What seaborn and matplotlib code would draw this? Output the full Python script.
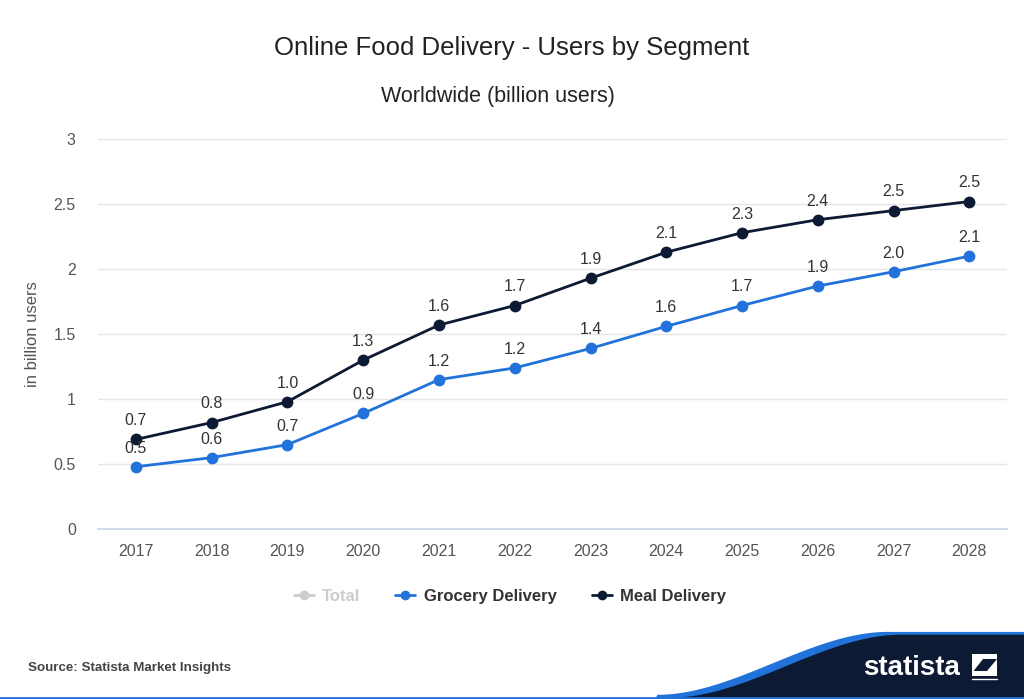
import numpy as np
import pandas as pd
import matplotlib
matplotlib.use('Agg')
import matplotlib.pyplot as plt
from matplotlib.lines import Line2D
from matplotlib.patches import Polygon
import seaborn as sns

# Data
years = [2017, 2018, 2019, 2020, 2021, 2022, 2023, 2024, 2025, 2026, 2027, 2028]
grocery = [0.48, 0.55, 0.65, 0.89, 1.15, 1.24, 1.39, 1.56, 1.72, 1.87, 1.98, 2.10]
meal = [0.69, 0.82, 0.98, 1.30, 1.57, 1.72, 1.93, 2.13, 2.28, 2.38, 2.45, 2.52]
grocery_labels = ['0.5', '0.6', '0.7', '0.9', '1.2', '1.2', '1.4', '1.6', '1.7', '1.9', '2.0', '2.1']
meal_labels = ['0.7', '0.8', '1.0', '1.3', '1.6', '1.7', '1.9', '2.1', '2.3', '2.4', '2.5', '2.5']
y_ticks = [0, 0.5, 1, 1.5, 2, 2.5, 3]
y_tick_labels = ['0', '0.5', '1', '1.5', '2', '2.5', '3']

BLUE = '#2173db'
NAVY = '#0c1b33'
GREY_TXT = '#555555'

sns.set_theme(style='white')
plt.rcParams['font.family'] = ['Liberation Sans', 'DejaVu Sans']

df = pd.DataFrame({
    'year': years * 2,
    'value': grocery + meal,
    'segment': ['Grocery Delivery'] * len(years) + ['Meal Delivery'] * len(years),
})

fig = plt.figure(figsize=(10.24, 6.99), dpi=100)
ax = fig.add_axes([0.0957, 0.243, 0.888, 0.558])

sns.lineplot(data=df, x='year', y='value', hue='segment',
             palette={'Grocery Delivery': BLUE, 'Meal Delivery': NAVY},
             marker='o', markersize=8.5, markeredgewidth=0, linewidth=2,
             legend=False, ax=ax)

for x, v, s in zip(years, grocery, grocery_labels):
    ax.annotate(s, (x, v), xytext=(0, 8), textcoords='offset points',
                ha='center', va='bottom', fontsize=11.5, color='#333333')
for x, v, s in zip(years, meal, meal_labels):
    ax.annotate(s, (x, v), xytext=(0, 8), textcoords='offset points',
                ha='center', va='bottom', fontsize=11.5, color='#333333')

ax.set_xlim(2016.5, 2028.5)
ax.set_ylim(0, 3)
ax.set_xticks(years)
ax.set_xticklabels([str(y) for y in years])
ax.set_yticks(y_ticks)
ax.set_yticklabels(y_tick_labels)
ax.tick_params(axis='both', length=0, labelsize=11.5, labelcolor=GREY_TXT)
ax.tick_params(axis='x', pad=11)
ax.tick_params(axis='y', pad=16)
ax.grid(axis='y', color='#e5e5e5', linewidth=1)
ax.set_axisbelow(True)
for side in ['top', 'right', 'left']:
    ax.spines[side].set_visible(False)
ax.spines['bottom'].set_color('#c9d6ea')
ax.set_xlabel('')
ax.set_ylabel('in billion users', fontsize=12, color=GREY_TXT, labelpad=10)

fig.text(0.5, 0.931, 'Online Food Delivery - Users by Segment', ha='center', va='center',
         fontsize=18.5, color='#222222')
fig.text(0.486, 0.862, 'Worldwide (billion users)', ha='center', va='center',
         fontsize=15.5, color='#222222')

handles = [
    Line2D([0], [0], color='#cccccc', marker='o', markersize=7, markeredgewidth=0, linewidth=2),
    Line2D([0], [0], color=BLUE, marker='o', markersize=7, markeredgewidth=0, linewidth=2),
    Line2D([0], [0], color=NAVY, marker='o', markersize=7, markeredgewidth=0, linewidth=2),
]
leg = fig.legend(handles, ['Total', 'Grocery Delivery', 'Meal Delivery'],
                 loc='center', bbox_to_anchor=(0.498, 0.147), ncol=3, frameon=False,
                 handlelength=1.2, columnspacing=2.1, handletextpad=0.5,
                 prop={'size': 12, 'weight': 'bold'})
for t, c in zip(leg.get_texts(), ['#cccccc', '#333333', '#333333']):
    t.set_color(c)

# footer
fig.text(0.027, 0.045, 'Source: Statista Market Insights', ha='left', va='center',
         fontsize=9.6, weight='bold', color='#444444')

xs = np.linspace(0.655, 1.0, 300)
t = np.clip((xs - 0.655) / 0.225, 0, 1)
wave = 0.002 + (0.092 - 0.002) * (3 * t ** 2 - 2 * t ** 3)
xb = np.clip(xs - 0.013, 0.64, 1.0)
blue_pts = [(0.64, 0.0)] + list(zip(xb, wave + 0.004)) + [(1.0, 0.096), (1.0, 0.0)]
navy_pts = [(0.655, 0.0)] + list(zip(xs, wave)) + [(1.0, 0.0)]
fig.add_artist(Polygon(blue_pts, closed=True, transform=fig.transFigure,
                       facecolor=BLUE, edgecolor='none'))
fig.add_artist(Polygon(navy_pts, closed=True, transform=fig.transFigure,
                       facecolor=NAVY, edgecolor='none'))
fig.add_artist(Line2D([0, 1], [0.002, 0.002], transform=fig.transFigure,
                      color=BLUE, linewidth=2))
fig.text(0.8905, 0.045, 'statista', ha='center', va='center', fontsize=20,
         weight='bold', color='white')

# logo mark
x0, y0, w, h = 0.949, 0.030, 0.025, 0.034
piece_a = [(0, 0.2), (0, 1), (1, 1), (1, 0.78), (0.42, 0.78)]
piece_b = [(1, 0.8), (1, 0.08), (0, 0.08), (0, 0.3), (0.58, 0.3)]
for piece in (piece_a, piece_b):
    pts = [(x0 + px * w, y0 + py * h) for px, py in piece]
    fig.add_artist(Polygon(pts, closed=True, transform=fig.transFigure,
                           facecolor='white', edgecolor='none'))
fig.add_artist(Line2D([x0, x0 + w], [y0 - 0.002, y0 - 0.002], transform=fig.transFigure,
                      color='white', linewidth=1))

fig.savefig('out.png', dpi=100)
